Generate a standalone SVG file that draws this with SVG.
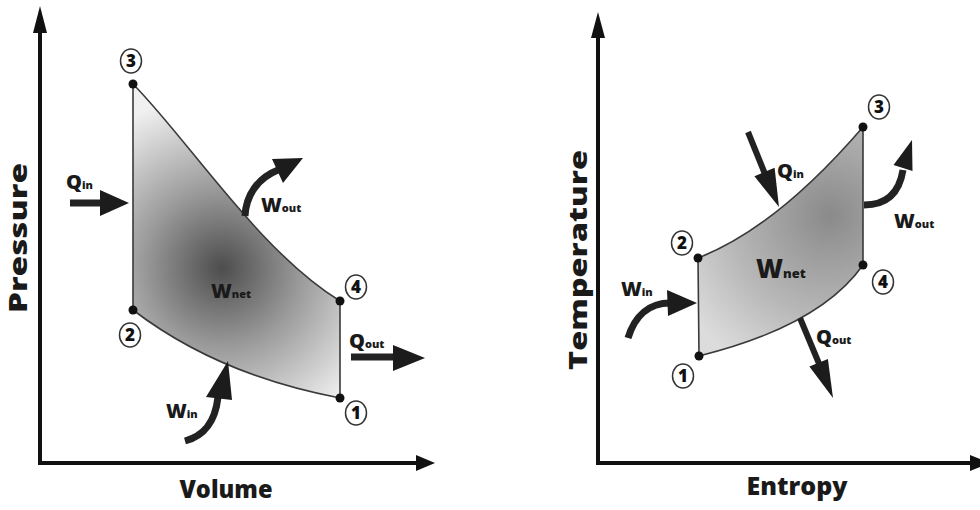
<svg xmlns="http://www.w3.org/2000/svg" width="980" height="510" viewBox="0 0 980 510">
<defs>
<style>
.ax{stroke:#111;stroke-width:4;fill:none}
.axh{fill:#111}
.edge{stroke:#3a3a3a;stroke-width:1.6}
.dot{fill:#111}
.circ{fill:#fff;stroke:#333;stroke-width:1.5}
.num{font-family:"Open Sans","DejaVu Sans",sans-serif;font-weight:800;font-size:17px;fill:#111;text-anchor:middle}
.lbl{font-family:"Open Sans","DejaVu Sans",sans-serif;font-weight:800;fill:#1a1a1a}
.big{font-size:25px}
.sym{font-size:20px}
.sub{font-size:11px}
.shaft{stroke:#222;fill:none;stroke-width:7}
.head{fill:#1c1c1c}
</style>
<radialGradient id="gL" gradientUnits="userSpaceOnUse" cx="222" cy="268" r="175">
<stop offset="0" stop-color="#4d4d4d"/>
<stop offset="0.45" stop-color="#9a9a9a"/>
<stop offset="1" stop-color="#f0f0f0"/>
</radialGradient>
<radialGradient id="gR" gradientUnits="userSpaceOnUse" cx="830" cy="215" r="170">
<stop offset="0" stop-color="#8a8a8a"/>
<stop offset="0.6" stop-color="#b8b8b8"/>
<stop offset="1" stop-color="#dcdcdc"/>
</radialGradient>
</defs>
<rect width="980" height="510" fill="#fff"/>

<!-- Left P-V diagram -->
<g id="pv-axes">
<path class="ax" d="M40,30 V463 H420"/>
<polygon class="axh" points="40,6 47,33 33,33"/>
<polygon class="axh" points="435,463 416,455 416,471"/>
<text class="lbl big" transform="translate(27,238) rotate(-90)" text-anchor="middle" textLength="150" lengthAdjust="spacingAndGlyphs">Pressure</text>
<text class="lbl big" x="226" y="498" text-anchor="middle" textLength="93" lengthAdjust="spacingAndGlyphs">Volume</text>
</g>
<g id="pv-cycle">
<path class="edge" fill="url(#gL)" d="M133,84 C190,142 260,252 340,301 L340,398 Q218,375 133,310 Z"/>
<text class="lbl" style="font-size:20px" x="211" y="298">W<tspan class="sub">net</tspan></text>
</g>
<g id="pv-node-3"><circle class="dot" cx="133" cy="84" r="4.5"/><ellipse class="circ" cx="131" cy="61" rx="10.5" ry="12"/><text class="num" x="131" y="67">3</text></g>
<g id="pv-node-2"><circle class="dot" cx="133" cy="310" r="4.5"/><ellipse class="circ" cx="130" cy="335" rx="10.5" ry="12"/><text class="num" x="130" y="341">2</text></g>
<g id="pv-node-4"><circle class="dot" cx="340" cy="301" r="4.5"/><ellipse class="circ" cx="356" cy="287" rx="10.5" ry="12"/><text class="num" x="356" y="293">4</text></g>
<g id="pv-node-1"><circle class="dot" cx="340" cy="398" r="4.5"/><ellipse class="circ" cx="356" cy="413" rx="10.5" ry="12"/><text class="num" x="356" y="419">1</text></g>

<g id="pv-connectors">
<!-- Qin -->
<path class="shaft" d="M70,203 H102"/>
<polygon class="head" points="100,190 129,203 100,216"/>
<text class="lbl sym" x="66" y="189">Q<tspan class="sub">in</tspan></text>
<!-- Wout -->
<path class="shaft" d="M245,216 C246,195 258,178 278,170"/>
<polygon class="head" points="303,158 272,159 283,183"/>
<text class="lbl sym" x="261" y="212">W<tspan class="sub">out</tspan></text>
<!-- Qout -->
<path class="shaft" d="M351,357 H395"/>
<polygon class="head" points="393,345 425,358 393,371"/>
<text class="lbl sym" x="349" y="348">Q<tspan class="sub">out</tspan></text>
<!-- Win -->
<path class="shaft" d="M185,441 C203,436 215,424 218,397"/>
<polygon class="head" points="228,361 232,400 206,397"/>
<text class="lbl sym" x="166" y="418">W<tspan class="sub">in</tspan></text>
</g>

<!-- Right T-s diagram -->
<g id="ts-axes">
<path class="ax" d="M598,36 V463 H975"/>
<polygon class="axh" points="598,12 605,38 591,38"/>
<polygon class="axh" points="990,463 970,455 970,471"/>
<text class="lbl big" transform="translate(587,260) rotate(-90)" text-anchor="middle" textLength="220" lengthAdjust="spacingAndGlyphs">Temperature</text>
<text class="lbl big" x="797" y="495" text-anchor="middle" textLength="101" lengthAdjust="spacingAndGlyphs">Entropy</text>
</g>
<g id="ts-cycle">
<path class="edge" fill="url(#gR)" d="M698,258 Q776,228 863,127 L863,265 Q820,326 699,356 Z"/>
<text class="lbl" style="font-size:26px" x="756" y="278">W<tspan style="font-size:13px">net</tspan></text>
</g>
<g id="ts-node-3"><circle class="dot" cx="863" cy="127" r="4.5"/><ellipse class="circ" cx="879" cy="107" rx="10.5" ry="12"/><text class="num" x="879" y="113">3</text></g>
<g id="ts-node-2"><circle class="dot" cx="698" cy="258" r="4.5"/><ellipse class="circ" cx="682" cy="243" rx="10.5" ry="12"/><text class="num" x="682" y="249">2</text></g>
<g id="ts-node-4"><circle class="dot" cx="863" cy="265" r="4.5"/><ellipse class="circ" cx="883" cy="282" rx="10.5" ry="12"/><text class="num" x="883" y="288">4</text></g>
<g id="ts-node-1"><circle class="dot" cx="699" cy="356" r="4.5"/><ellipse class="circ" cx="683" cy="376" rx="10.5" ry="12"/><text class="num" x="683" y="382">1</text></g>

<g id="ts-connectors">
<!-- Qin -->
<path class="shaft" style="stroke-width:6" d="M748,132 L765,174"/>
<polygon class="head" points="779,207 774.6,167.8 754.4,176.2"/>
<text class="lbl sym" x="777" y="178">Q<tspan class="sub">in</tspan></text>
<!-- Wout -->
<path class="shaft" d="M864,205 C885,205 899,195 903,170"/>
<polygon class="head" points="912,140 893.5,165 912.5,171"/>
<text class="lbl sym" x="894" y="228">W<tspan class="sub">out</tspan></text>
<!-- Win -->
<path class="shaft" d="M628,338 C635,315 650,303 670,303"/>
<polygon class="head" points="697,303 667,290 668,316"/>
<text class="lbl sym" x="621" y="296">W<tspan class="sub">in</tspan></text>
<!-- Qout -->
<path class="shaft" style="stroke-width:6" d="M800,318 L820,366"/>
<polygon class="head" points="833,398 827.9,359 809.4,366.6"/>
<text class="lbl sym" x="816" y="344">Q<tspan class="sub">out</tspan></text>
</g>
</svg>
